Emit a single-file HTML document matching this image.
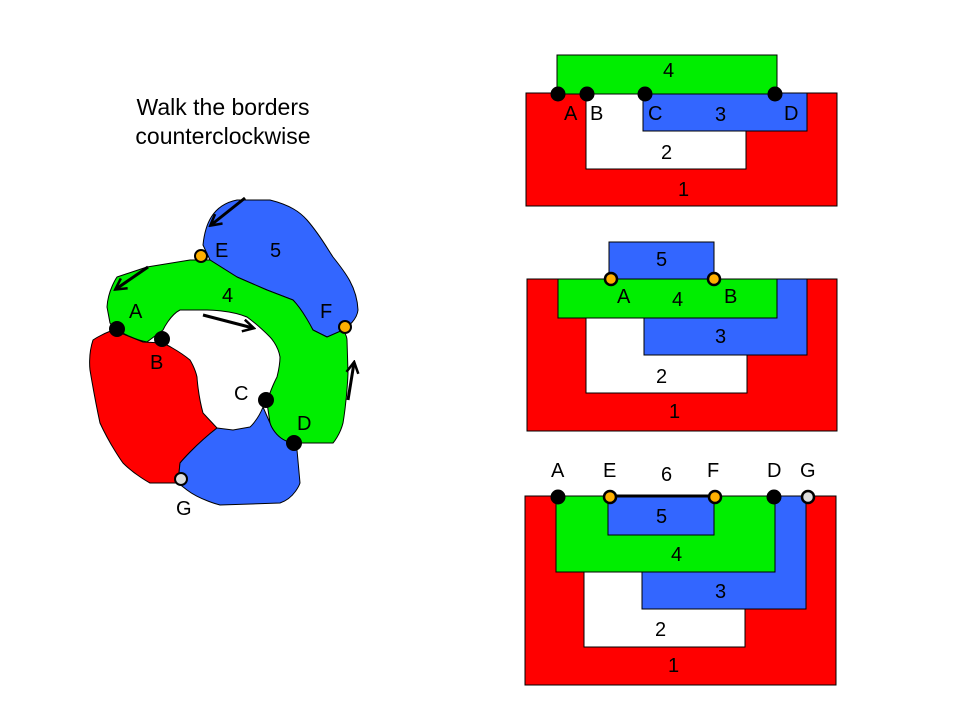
<!DOCTYPE html>
<html><head><style>body{margin:0;background:#fff}svg{display:block}text{font-family:"Liberation Sans",sans-serif;font-size:20px;fill:#000}</style></head>
<body>
<svg width="960" height="720" viewBox="0 0 960 720" xmlns="http://www.w3.org/2000/svg">
<defs><marker id="ah" markerWidth="14" markerHeight="14" refX="11" refY="7" orient="auto" markerUnits="userSpaceOnUse"><path d="M1,1 L12,7 L1,13" fill="none" stroke="#000" stroke-width="2.5"/></marker></defs>
<text x="223" y="115" text-anchor="middle" style="font-size:23px">Walk the borders</text>
<text x="223" y="144" text-anchor="middle" style="font-size:23px">counterclockwise</text>
<g stroke="#000" stroke-width="1" stroke-linejoin="round">
<path fill="#3366ff" d="M203,245 C205,225 212,205 237,200 L270,200 C290,205 300,212 307,220 C320,235 327,248 333,257 C345,272 357,287 358,310 C357,320 347,327 347,327 C340,335 327,337 327,337 L313,330 C303,315 298,305 293,300 L267,290 L237,277 L210,260 Z"/>
<path fill="#00ee00" d="M107,307 C108,290 117,277 117,277 L147,267 L190,260 L210,260 L237,277 L267,290 L293,300 C303,310 313,330 313,330 L327,337 L343,330 C347,335 347,340 347,340 L348,373 C347,400 343,423 343,423 C340,435 333,443 333,443 L293,443 C275,440 270,423 270,423 L267,403 C270,390 277,377 277,377 C280,365 280,357 280,357 C278,345 270,337 270,337 C258,325 247,317 247,317 C230,310 207,310 207,310 L180,310 C170,315 163,330 163,330 L147,342 C135,340 123,333 123,333 C112,328 110,323 110,323 Z"/>
<path fill="#ff0000" d="M113,330 C100,335 93,340 93,340 C88,355 90,370 90,370 C95,400 100,423 100,423 C110,445 123,463 123,463 C135,475 150,483 150,483 L178,483 L180,463 C195,445 217,428 217,428 L203,413 C198,395 197,377 197,377 C195,368 190,360 190,360 C178,350 163,343 163,343 L143,342 Z"/>
<path fill="#3366ff" d="M217,428 C195,445 180,463 180,463 L178,483 L187,490 C200,500 220,505 220,505 L280,503 C295,498 300,483 300,483 L297,450 L293,443 C275,440 270,423 270,423 L263,407 C258,420 250,427 250,427 L233,430 Z"/>
</g>
<g stroke="#000" stroke-width="3" fill="none">
<line x1="245" y1="198" x2="211" y2="225" marker-end="url(#ah)"/>
<line x1="148" y1="267" x2="116" y2="289" marker-end="url(#ah)"/>
<line x1="203" y1="315" x2="253" y2="328" marker-end="url(#ah)"/>
<line x1="348" y1="400" x2="354" y2="363" marker-end="url(#ah)"/>
</g>
<g stroke="#000" stroke-width="2">
<circle cx="117" cy="329" r="7" fill="#000"/><circle cx="162" cy="339" r="7" fill="#000"/>
<circle cx="266" cy="400" r="7" fill="#000"/><circle cx="294" cy="443" r="7" fill="#000"/>
<circle cx="201" cy="256" r="6" fill="#ffb000"/><circle cx="345" cy="327" r="6" fill="#ffb000"/>
<circle cx="181" cy="479" r="6" fill="#ddd"/>
</g>
<text x="129" y="318">A</text><text x="150" y="369">B</text><text x="234" y="400">C</text><text x="297" y="430">D</text>
<text x="215" y="257">E</text><text x="270" y="257">5</text><text x="222" y="302">4</text><text x="320" y="318">F</text><text x="176" y="515">G</text>

<g stroke="#000" stroke-width="1">
<rect x="526" y="93" width="311" height="113" fill="#ff0000"/>
<rect x="586" y="93" width="160" height="76" fill="#fff"/>
<rect x="643" y="93" width="164" height="38" fill="#3366ff"/>
<rect x="557" y="55" width="220" height="39" fill="#00ee00"/>
<circle cx="558" cy="94" r="7" fill="#000"/><circle cx="587" cy="94" r="7" fill="#000"/>
<circle cx="645" cy="94" r="7" fill="#000"/><circle cx="775" cy="94" r="7" fill="#000"/>
</g>
<text x="663" y="77">4</text><text x="564" y="120">A</text><text x="590" y="120">B</text><text x="648" y="120">C</text><text x="715" y="121">3</text><text x="784" y="120">D</text><text x="661" y="159">2</text><text x="678" y="196">1</text>

<g stroke="#000" stroke-width="1">
<rect x="527" y="279" width="310" height="152" fill="#ff0000"/>
<rect x="586" y="318" width="161" height="75" fill="#fff"/>
<rect x="644" y="279" width="163" height="76" fill="#3366ff"/>
<rect x="558" y="279" width="219" height="39" fill="#00ee00"/>
<rect x="609" y="242" width="105" height="37" fill="#3366ff"/>
<circle cx="611" cy="279" r="6" fill="#ffb000" stroke-width="2.5"/><circle cx="714" cy="279" r="6" fill="#ffb000" stroke-width="2.5"/>
</g>
<text x="656" y="266">5</text><text x="617" y="303">A</text><text x="672" y="306">4</text><text x="724" y="303">B</text><text x="715" y="343">3</text><text x="656" y="383">2</text><text x="669" y="418">1</text>

<g stroke="#000" stroke-width="1">
<rect x="525" y="496" width="311" height="189" fill="#ff0000"/>
<rect x="584" y="572" width="161" height="75" fill="#fff"/>
<rect x="642" y="496" width="164" height="113" fill="#3366ff"/>
<rect x="556" y="496" width="219" height="76" fill="#00ee00"/>
<rect x="608" y="497" width="106" height="38" fill="#3366ff"/>
<line x1="608" y1="496" x2="714" y2="496" stroke-width="3"/>
<circle cx="558" cy="497" r="7" fill="#000"/><circle cx="774" cy="497" r="7" fill="#000"/>
<circle cx="610" cy="497" r="6" fill="#ffb000" stroke-width="2.5"/><circle cx="715" cy="497" r="6" fill="#ffb000" stroke-width="2.5"/>
<circle cx="808" cy="497" r="6" fill="#ddd" stroke-width="2.5"/>
</g>
<text x="551" y="477">A</text><text x="603" y="477">E</text><text x="661" y="481">6</text><text x="707" y="477">F</text><text x="767" y="477">D</text><text x="800" y="477">G</text>
<text x="656" y="523">5</text><text x="671" y="561">4</text><text x="715" y="598">3</text><text x="655" y="636">2</text><text x="668" y="672">1</text>
</svg>
</body></html>
